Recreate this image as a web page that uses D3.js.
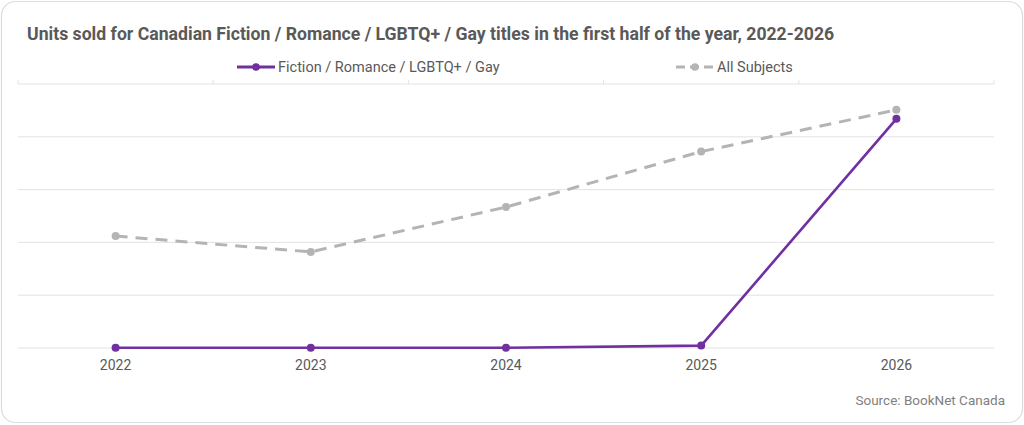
<!DOCTYPE html>
<html><head><meta charset="utf-8">
<script src="https://cdn.jsdelivr.net/npm/d3@7/dist/d3.min.js"></script>
<style>
html,body{margin:0;padding:0;background:#fff;}
svg{display:block;font-family:Roboto,"Open Sans",sans-serif;}
</style></head>
<body>
<svg id="chart" width="1024" height="425"></svg>
<script>
const years = ["2022","2023","2024","2025","2026"];
const fictionValues = [0.005, 0.005, 0.005, 0.045, 4.34];
const allSubjectsValues = [2.12, 1.82, 2.67, 3.72, 4.51];
const gridTicks = [0, 1, 2, 3, 4, 5];
const seriesNames = ["Fiction / Romance / LGBTQ+ / Gay", "All Subjects"];
const titleText = "Units sold for Canadian Fiction / Romance / LGBTQ+ / Gay titles in the first half of the year, 2022-2026";
const sourceText = "Source: BookNet Canada";

const svg = d3.select("#chart");
const W = 1024, H = 425;
const plotLeft = 18, plotRight = 994, plotTop = 84, plotBottom = 348;

svg.append("rect").attr("x",1.5).attr("y",1.5).attr("width",W-3).attr("height",H-4)
  .attr("rx",14).attr("fill","#fff").attr("stroke","#dcdcdc").attr("stroke-width",1.2);

const x = d3.scaleBand().domain(years).range([plotLeft, plotRight]).padding(0);
const y = d3.scaleLinear().domain([0, 5]).range([plotBottom, plotTop]);

// gridlines
svg.append("g").selectAll("line").data(gridTicks).join("line")
  .attr("x1", plotLeft).attr("x2", plotRight)
  .attr("y1", d => y(d)).attr("y2", d => y(d))
  .attr("stroke", "#e3e3e3").attr("stroke-width", 1);

// top tick marks at category boundaries
const bounds = years.map(d => x(d)).concat([x(years[years.length-1]) + x.bandwidth()]);
svg.append("g").selectAll("line").data(bounds).join("line")
  .attr("x1", d => d).attr("x2", d => d)
  .attr("y1", y(5)).attr("y2", y(5) - 4)
  .attr("stroke", "#e3e3e3").attr("stroke-width", 1);

// x axis labels
const xAxis = d3.axisBottom(x).tickSize(0).tickPadding(12);
const gx = svg.append("g").attr("transform", `translate(0,${plotBottom})`).call(xAxis);
gx.select(".domain").remove();
gx.selectAll("text").attr("font-size", 14).attr("fill", "#595959")
  .attr("font-family", "Roboto, sans-serif");

const cx = d => x(d) + x.bandwidth() / 2;
const line = d3.line().x((d, i) => cx(years[i])).y(d => y(d));

const purple = "#7030a0", grey = "#b4b4b4";

// All subjects dashed
svg.append("path").datum(allSubjectsValues).attr("d", line)
  .attr("fill", "none").attr("stroke", grey).attr("stroke-width", 3)
  .attr("stroke-dasharray", "12,8");
svg.append("g").selectAll("circle").data(allSubjectsValues).join("circle")
  .attr("cx", (d, i) => cx(years[i])).attr("cy", d => y(d)).attr("r", 4).attr("fill", grey);

// Fiction solid
svg.append("path").datum(fictionValues).attr("d", line)
  .attr("fill", "none").attr("stroke", purple).attr("stroke-width", 2.6)
  .attr("stroke-linejoin", "round");
svg.append("g").selectAll("circle").data(fictionValues).join("circle")
  .attr("cx", (d, i) => cx(years[i])).attr("cy", d => y(d)).attr("r", 4).attr("fill", purple);

// title
const title = svg.append("text").attr("x", 27).attr("y", 40)
  .attr("font-size", 17).attr("font-weight", "bold").attr("fill", "#595959")
  .text(titleText);
const tw = title.node().getComputedTextLength();
title.attr("font-size", 17 * 808 / tw);

// legend
const legend = [
  {name: seriesNames[0], color: purple, x0: 237, dash: null},
  {name: seriesNames[1], color: grey, x0: 676, dash: "9,5"}
];
legend.forEach(l => {
  const g = svg.append("g");
  g.append("line").attr("x1", l.x0).attr("x2", l.x0 + 38).attr("y1", 67).attr("y2", 67)
    .attr("stroke", l.color).attr("stroke-width", 3).attr("stroke-dasharray", l.dash);
  g.append("circle").attr("cx", l.x0 + 19).attr("cy", 67).attr("r", 3.8).attr("fill", l.color);
  g.append("text").attr("x", l.x0 + 41).attr("y", 72).attr("font-size", 14.5)
    .attr("fill", "#595959").text(l.name);
});

// source
svg.append("text").attr("x", 1005).attr("y", 405).attr("text-anchor", "end")
  .attr("font-size", 13.5).attr("fill", "#7f7f7f").text(sourceText);
</script>
</body></html>
